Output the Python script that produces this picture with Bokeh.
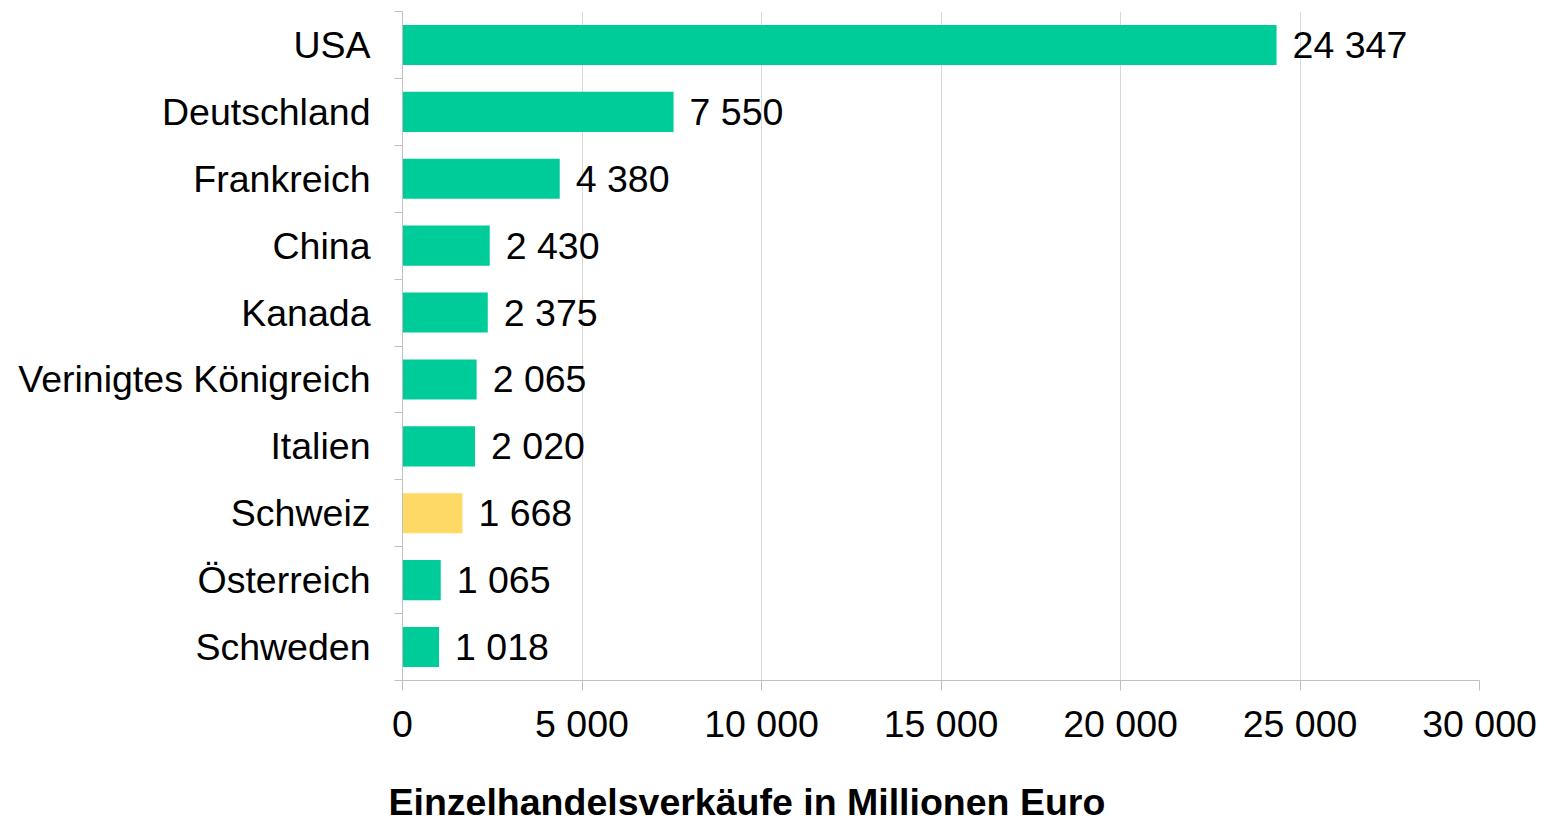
from bokeh.plotting import figure
from bokeh.models import FixedTicker, Range1d, Title, ColumnDataSource
from bokeh.core.properties import value
from bokeh.embed import file_html
from bokeh.resources import INLINE

countries = ["USA", "Deutschland", "Frankreich", "China", "Kanada",
             "Verinigtes Königreich", "Italien", "Schweiz", "Österreich", "Schweden"]
sales = [24347, 7550, 4380, 2430, 2375, 2065, 2020, 1668, 1065, 1018]
highlight = "Schweiz"
x_ticks = [0, 5000, 10000, 15000, 20000, 25000, 30000]
x_tick_labels = ["0", "5 000", "10 000", "15 000", "20 000", "25 000", "30 000"]
axis_title = "Einzelhandelsverkäufe in Millionen Euro"

GREEN = "#00CC99"
YELLOW = "#FFD966"
FONT = "Liberation Sans"
FS = "37.5px"

n = len(countries)
ypos = [n - i - 0.5 for i in range(n)]
colors = [YELLOW if c == highlight else GREEN for c in countries]
labels = [f"{v:,}".replace(",", " ") for v in sales]

src = ColumnDataSource(dict(y=ypos, x=sales, color=colors, label=labels, name=countries))

p = figure(frame_width=1077, frame_height=669, output_backend="svg", toolbar_location=None,
           x_range=Range1d(0, 30000), y_range=Range1d(0, n),
           min_border_left=402, min_border_right=68, min_border_top=11, min_border_bottom=0)
p.outline_line_color = None
p.background_fill_color = "white"

p.hbar(y="y", right="x", left=0, height=0.6, color="color", source=src, line_color=None)
p.text(x="x", y="y", text="label", source=src, x_offset=16, text_baseline="middle",
       text_align="left", text_font=value(FONT), text_font_size=FS, text_color="black")

# x axis
xa = p.xaxis[0]
xa.ticker = FixedTicker(ticks=x_ticks)
xa.major_label_overrides = {t: l for t, l in zip(x_ticks, x_tick_labels)}
xa.major_label_text_font = FONT
xa.major_label_text_font_size = FS
xa.major_label_text_color = "black"
xa.major_tick_out = 10
xa.major_tick_in = 0
xa.minor_tick_line_color = None
xa.axis_line_color = "#BFBFBF"
xa.major_tick_line_color = "#BFBFBF"
xa.major_label_standoff = 12
# spacer between the tick labels and the axis title
xa.axis_label = "\u00a0"
xa.axis_label_text_font_size = "20px"
xa.axis_label_standoff = 6

# y axis
ya = p.yaxis[0]
ya.ticker = FixedTicker(ticks=ypos, minor_ticks=list(range(n + 1)))
ya.major_label_overrides = {y: c for y, c in zip(ypos, countries)}
ya.major_label_text_font = FONT
ya.major_label_text_font_size = FS
ya.major_label_text_color = "black"
ya.major_tick_line_color = None
ya.major_tick_out = 0
ya.major_tick_in = 0
ya.minor_tick_out = 8
ya.minor_tick_in = 0
ya.minor_tick_line_color = "#BFBFBF"
ya.axis_line_color = "#BFBFBF"
ya.major_label_standoff = 24

p.xgrid.ticker = FixedTicker(ticks=x_ticks)
p.xgrid.grid_line_color = "#D9D9D9"
p.ygrid.grid_line_color = None

p.add_layout(Title(text=axis_title, align="left", offset=-14, text_font=FONT,
                   text_font_size=FS, text_font_style="bold", text_color="black",
                   standoff=0, vertical_align="bottom"), "below")

open("out.html", "w").write(file_html(p, INLINE))
